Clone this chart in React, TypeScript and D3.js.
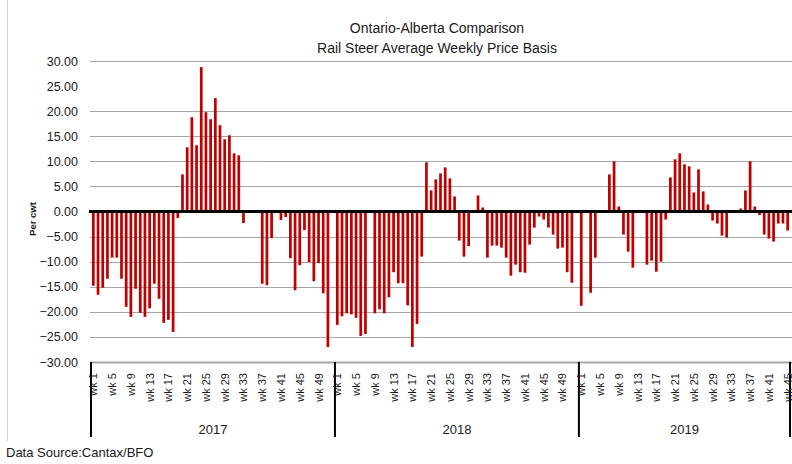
import React from "react";
import * as d3 from "d3";

const years = ["2017", "2018", "2019"];
const weeksPerYear = [52, 52, 45];

const y2017: (number | null)[] = [
  -14.8, -16.6, -15.2, -13.4, -9.2, -9.2, -13.4, -19.0, -21.0, -15.4,
  -20.2, -21.0, -19.3, -14.4, -17.4, -22.2, -21.6, -24.0, -1.3, 7.4,
  12.8, 18.8, 13.2, 28.8, 19.8, 18.4, 22.6, 17.2, 14.4, 15.2,
  11.6, 11.2, -2.3, null, null, null, -14.4, -14.7, -5.3, null,
  -1.7, -1.1, -9.3, -15.7, -10.7, -3.7, -10.1, -13.9, -10.3, -16.3,
  -27.0, null,
];
const y2018: (number | null)[] = [
  -22.6, -20.9, -20.3, -20.5, -21.2, -24.8, -24.4, null, -20.3, -19.5,
  -20.3, -17.1, -12.1, -14.3, -14.3, -18.7, -27.0, -22.4, -9.0, 9.8,
  4.2, 6.4, 7.6, 8.8, 6.6, 3.0, -5.8, -9.0, -6.9, null,
  3.2, 0.8, -9.2, -6.8, -6.8, -7.2, -9.2, -12.8, -10.6, -12.1,
  -12.2, -6.6, -3.2, -1.0, -1.6, -3.2, -4.6, -7.4, -7.2, -12.1,
  -14.2, null,
];
const y2019: (number | null)[] = [
  -18.8, null, -16.2, -9.2, null, null, 7.4, 10.0, 1.0, -4.6,
  -8.0, -11.2, null, null, -10.6, -9.8, -12.0, -10.0, -1.6, 6.8,
  10.4, 11.6, 9.4, 9.0, 3.8, 8.4, 4.0, 1.4, -1.8, -2.4,
  -4.8, -5.2, null, null, 0.6, 4.2, 10.0, 1.0, -0.7, -4.6,
  -5.4, -6.0, -2.4, -2.4, -3.8,
];
const yTicks = [30, 25, 20, 15, 10, 5, 0, -5, -10, -15, -20, -25, -30];
const gridValues = [30, 20, 15, 10, 5, -5, -10, -15, -20, -25, -30];
const labelWeeks = [1, 5, 9, 13, 17, 21, 25, 29, 33, 37, 41, 45, 49];

const titleLines = ["Ontario-Alberta Comparison", "Rail Steer Average Weekly Price Basis"];
const yAxisTitle = "Per cwt";
const sourceText = "Data Source:Cantax/BFO";

type Pt = { key: string; yearIdx: number; week: number; value: number | null };

export default function App() {
  const W = 792;
  const H = 464;
  const left = 91;
  const right = 790;
  const top = 61;
  const bottom = 362;

  const series = [y2017, y2018, y2019];
  const points: Pt[] = [];
  series.forEach((arr, yi) => {
    for (let w = 0; w < weeksPerYear[yi]; w++) {
      points.push({ key: `${yi}-${w + 1}`, yearIdx: yi, week: w + 1, value: arr[w] ?? null });
    }
  });

  const x = d3
    .scaleBand<string>()
    .domain(points.map((p) => p.key))
    .range([left, right])
    .paddingInner(0.42)
    .paddingOuter(0.21);
  const step = x.step();
  const y = d3.scaleLinear().domain([-30, 30]).range([bottom, top]);
  const fmt = d3.format(".2f");

  // year boundaries
  const boundaries: number[] = [];
  let acc = 0;
  boundaries.push(left);
  weeksPerYear.forEach((n) => {
    acc += n;
    boundaries.push(left + acc * step);
  });

  const font = "'Liberation Sans', Arial, sans-serif";

  return (
    <svg
      width={W}
      height={H}
      style={{ position: "absolute", left: 0, top: 0, background: "#fff" }}
      fontFamily={font}
    >
      <rect x={0} y={0} width={W} height={H} fill="#fff" />
      <line x1={7.5} x2={7.5} y1={0} y2={441} stroke="#D0D0D0" strokeWidth={1} />

      {titleLines.map((t, i) => (
        <text key={t} x={437} y={33 + i * 20} textAnchor="middle" fontSize={14} fill="#1a1a1a">
          {t}
        </text>
      ))}

      {gridValues.map((v) => (
        <line
          key={v}
          x1={90}
          x2={W}
          y1={Math.round(y(v)) + 0.5}
          y2={Math.round(y(v)) + 0.5}
          stroke="#A6A6A6"
          strokeWidth={v === -30 ? 2 : 1}
        />
      ))}

      {yTicks.map((v) => (
        <text key={v} x={78} y={y(v) + 4.5} textAnchor="end" fontSize={12.5} fill="#1a1a1a">
          {fmt(v)}
        </text>
      ))}

      <text
        transform={`translate(36, ${y(-1.5)}) rotate(-90)`}
        textAnchor="middle"
        fontSize={9.5}
        fontWeight="bold"
        fill="#1a1a1a"
      >
        {yAxisTitle}
      </text>

      {points
        .filter((p) => p.value !== null)
        .map((p) => {
          const v = p.value as number;
          const y0 = y(Math.max(0, v));
          const y1 = y(Math.min(0, v));
          return (
            <rect
              key={p.key}
              x={x(p.key)}
              y={y0}
              width={x.bandwidth()}
              height={Math.max(0.5, y1 - y0)}
              fill="#C00000"
            />
          );
        })}

      <line x1={89} x2={W} y1={y(0)} y2={y(0)} stroke="#000" strokeWidth={3} />

      {boundaries.map((bx, i) => (
        <line key={i} x1={bx} x2={bx} y1={bottom} y2={437} stroke="#000" strokeWidth={2} />
      ))}

      {points
        .filter((p) => labelWeeks.includes(p.week))
        .map((p) => {
          const cx = (x(p.key) as number) + x.bandwidth() / 2;
          return (
            <text
              key={"l" + p.key}
              transform={`translate(${cx + 4}, 373) rotate(-90)`}
              textAnchor="end"
              fontSize={11}
              fill="#1a1a1a"
            >
              {`wk ${p.week}`}
            </text>
          );
        })}

      {years.map((yr, i) => (
        <text
          key={yr}
          x={(boundaries[i] + boundaries[i + 1]) / 2}
          y={434}
          textAnchor="middle"
          fontSize={13}
          fill="#1a1a1a"
        >
          {yr}
        </text>
      ))}

      <text x={6} y={457} fontSize={13} fill="#1a1a1a">
        {sourceText}
      </text>
    </svg>
  );
}
